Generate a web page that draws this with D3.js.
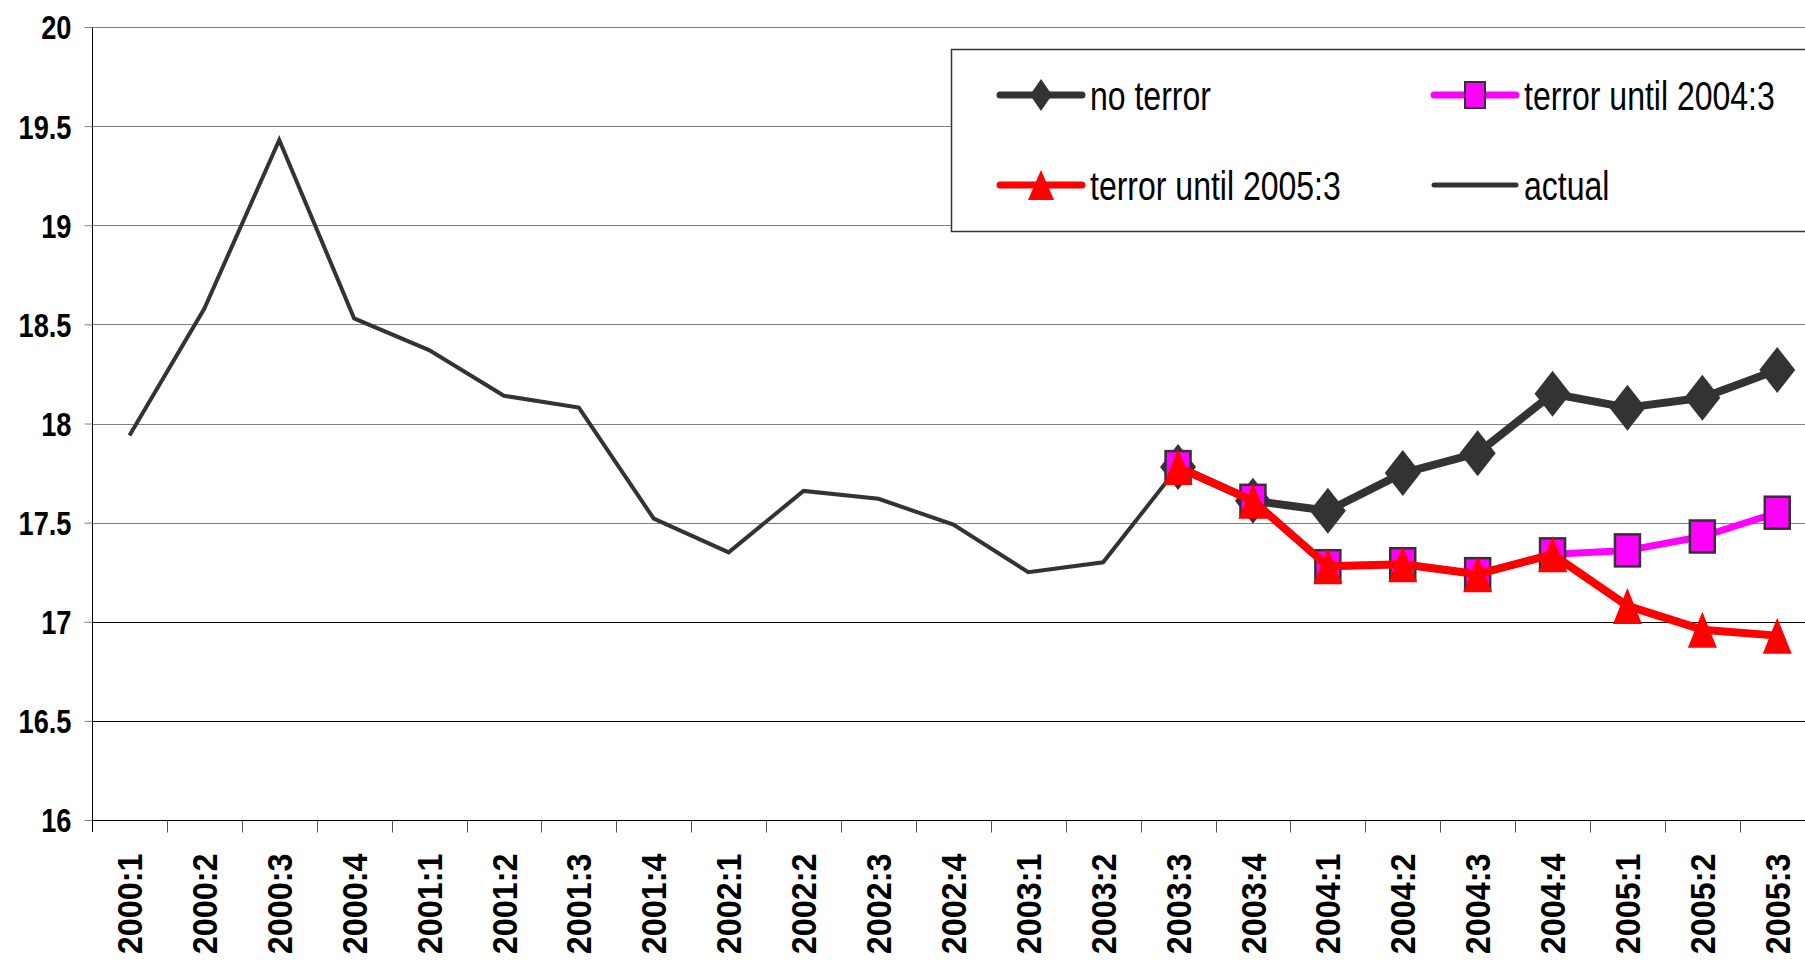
<!DOCTYPE html>
<html>
<head>
<meta charset="utf-8">
<script src="https://cdn.jsdelivr.net/npm/d3@7"></script>
<style>
  body { margin: 0; background: #fff; }
  text { font-family: "Liberation Sans", Arial, sans-serif; }
</style>
</head>
<body>
<script>
// quarters on the x axis
const categories = ['2000:1','2000:2','2000:3','2000:4','2001:1','2001:2','2001:3','2001:4',
  '2002:1','2002:2','2002:3','2002:4','2003:1','2003:2','2003:3','2003:4',
  '2004:1','2004:2','2004:3','2004:4','2005:1','2005:2','2005:3'];

const actual = [17.94, 18.58, 19.43, 18.53, 18.37, 18.14, 18.08, 17.52, 17.35, 17.66, 17.62, 17.49,
  17.25, 17.30, 17.78, null, null, null, null, null, null, null, null];

const noTerror = [null, null, null, null, null, null, null, null, null, null, null, null, null, null,
  17.78, 17.61, 17.56, 17.75, 17.85, 18.15, 18.08, 18.13, 18.27];

const terror2004 = [null, null, null, null, null, null, null, null, null, null, null, null, null, null,
  17.78, 17.61, 17.28, 17.29, 17.24, 17.34, 17.36, 17.43, 17.55];

const terror2005 = [null, null, null, null, null, null, null, null, null, null, null, null, null, null,
  17.78, 17.61, 17.28, 17.29, 17.24, 17.34, 17.08, 16.96, 16.93];

const yTicks = [16, 16.5, 17, 17.5, 18, 18.5, 19, 19.5, 20];

const width = 1805, height = 960;
const plotLeft = 92, plotTop = 27, plotBottom = 820, band = 74.9;

const svg = d3.select('body').append('svg')
  .attr('width', width)
  .attr('height', height);

const x = d3.scaleBand()
  .domain(categories)
  .range([plotLeft, plotLeft + categories.length * band])
  .padding(0);

const y = d3.scaleLinear()
  .domain([16, 20])
  .range([plotBottom, plotTop]);

const cx = (d, i) => x(categories[i]) + x.bandwidth() / 2;

// gridlines
svg.selectAll('.grid')
  .data(yTicks)
  .enter()
  .append('line')
  .attr('x1', plotLeft)
  .attr('x2', width)
  .attr('y1', d => Math.round(y(d)) + 0.5)
  .attr('y2', d => Math.round(y(d)) + 0.5)
  .attr('stroke', d => d <= 17 ? '#000' : '#808080')
  .attr('stroke-width', 1);

// y axis
const yAxis = svg.append('g')
  .attr('transform', `translate(${plotLeft + 0.5},0)`)
  .call(d3.axisLeft(y).tickValues(yTicks).tickSize(8).tickPadding(14)
    .tickFormat(d => d3.format('')(d)));
yAxis.select('.domain').attr('d', `M0,${plotTop}V${plotBottom + 12}`).attr('stroke', '#000');
yAxis.selectAll('.tick line').attr('stroke', '#808080');
yAxis.selectAll('.tick text')
  .attr('font-size', 34)
  .attr('font-weight', 'bold')
  .attr('fill', '#000')
  .attr('x', null)
  .attr('dy', '0.35em')
  .attr('transform', 'translate(-21,0) scale(0.8,1)');

// x axis
const xAxis = svg.append('g')
  .attr('transform', `translate(0,${plotBottom + 0.5})`);
xAxis.append('line')
  .attr('x1', plotLeft).attr('x2', width)
  .attr('stroke', '#000');
xAxis.selectAll('.xtick')
  .data(categories.slice(1))
  .enter()
  .append('line')
  .attr('x1', d => Math.round(x(d)) + 0.5)
  .attr('x2', d => Math.round(x(d)) + 0.5)
  .attr('y1', 0)
  .attr('y2', 12)
  .attr('stroke', '#555');
xAxis.selectAll('.xlabel')
  .data(categories)
  .enter()
  .append('text')
  .text(d => d)
  .attr('font-size', 36)
  .attr('font-weight', 'bold')
  .attr('text-anchor', 'end')
  .attr('dy', '0.35em')
  .attr('transform', d => `translate(${x(d) + x.bandwidth() / 2},33) rotate(-90) scale(0.9,1)`);

// lines
const line = d3.line()
  .defined(d => d !== null)
  .x(cx)
  .y(d => y(d));

svg.append('path')
  .datum(actual)
  .attr('d', line)
  .attr('fill', 'none')
  .attr('stroke', '#333')
  .attr('stroke-width', 4)
  .attr('stroke-linejoin', 'miter');

const diamond = (w, h) => `M0,${-h}L${w},0L0,${h}L${-w},0Z`;
const triangle = (w, h) => `M0,${-h}L${w},${h}L${-w},${h}Z`;

function series(data, color, lw, marker) {
  const g = svg.append('g');
  g.append('path')
    .datum(data)
    .attr('d', line)
    .attr('fill', 'none')
    .attr('stroke', color)
    .attr('stroke-width', lw)
    .attr('stroke-linejoin', 'round');
  const pts = data.map((d, i) => ({ v: d, i: i })).filter(d => d.v !== null);
  marker(g.selectAll('.m').data(pts).enter(), d => cx(null, d.i), d => y(d.v));
}

series(noTerror, '#333', 8, (sel, fx, fy) => {
  sel.append('path')
    .attr('d', diamond(18, 23))
    .attr('fill', '#333')
    .attr('transform', d => `translate(${fx(d)},${fy(d)})`);
});

series(terror2004, '#ff00ff', 7, (sel, fx, fy) => {
  sel.append('rect')
    .attr('x', d => fx(d) - 12.5)
    .attr('y', d => fy(d) - 16)
    .attr('width', 25)
    .attr('height', 32)
    .attr('fill', '#ff00ff')
    .attr('stroke', '#333')
    .attr('stroke-width', 2.5);
});

series(terror2005, '#ff0000', 8, (sel, fx, fy) => {
  sel.append('path')
    .attr('d', triangle(14.5, 18))
    .attr('fill', '#ff0000')
    .attr('transform', d => `translate(${fx(d)},${fy(d)})`);
});

// legend
const lg = svg.append('g');
lg.append('rect')
  .attr('x', 951.5).attr('y', 49.5)
  .attr('width', 900).attr('height', 182)
  .attr('fill', '#fff')
  .attr('stroke', '#333')
  .attr('stroke-width', 1.5);

const legendItems = [
  { name: 'no terror', color: '#333', lx: 1000, ly: 95, mark: 'diamond' },
  { name: 'terror until 2004:3', color: '#ff00ff', lx: 1434, ly: 95, mark: 'square' },
  { name: 'terror until 2005:3', color: '#ff0000', lx: 1000, ly: 185, mark: 'triangle' },
  { name: 'actual', color: '#333', lx: 1434, ly: 185, mark: 'none' }
];

legendItems.forEach(it => {
  lg.append('line')
    .attr('x1', it.lx).attr('x2', it.lx + 82)
    .attr('y1', it.ly).attr('y2', it.ly)
    .attr('stroke', it.color)
    .attr('stroke-width', it.mark === 'none' ? 5 : 7)
    .attr('stroke-linecap', 'round');
  const mx = it.lx + 41;
  if (it.mark === 'diamond') {
    lg.append('path').attr('d', diamond(11, 16)).attr('fill', '#333')
      .attr('transform', `translate(${mx},${it.ly})`);
  } else if (it.mark === 'square') {
    lg.append('rect').attr('x', mx - 10).attr('y', it.ly - 13)
      .attr('width', 20).attr('height', 26)
      .attr('fill', '#ff00ff').attr('stroke', '#333').attr('stroke-width', 2);
  } else if (it.mark === 'triangle') {
    lg.append('path').attr('d', triangle(13, 15)).attr('fill', '#ff0000')
      .attr('transform', `translate(${mx},${it.ly})`);
  }
  lg.append('text')
    .text(it.name)
    .attr('font-size', 40)
    .attr('fill', '#000')
    .attr('transform', `translate(${it.lx + 90},${it.ly + 15}) scale(0.8,1)`);
});
</script>
</body>
</html>
